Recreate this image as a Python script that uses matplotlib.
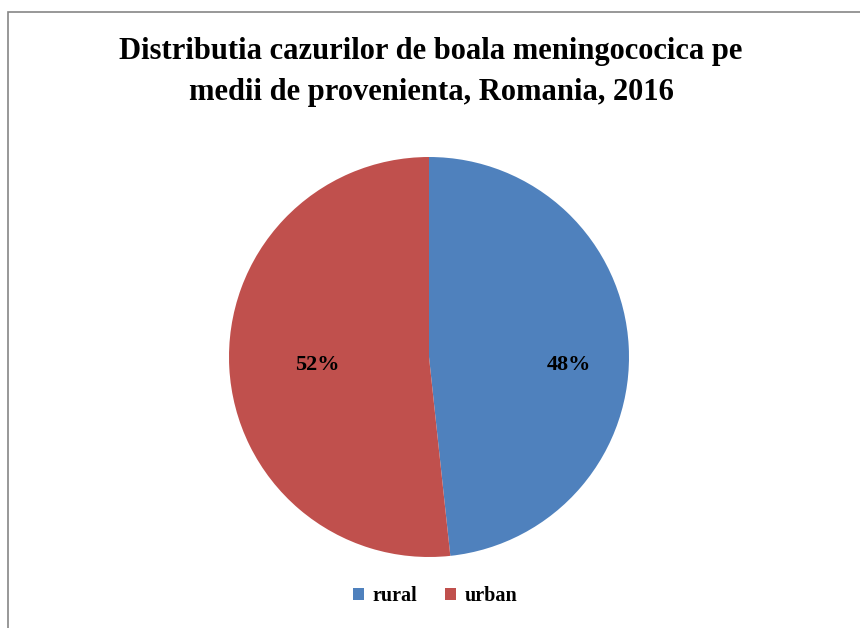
import matplotlib
matplotlib.use("Agg")
import matplotlib.pyplot as plt
from matplotlib.patches import Rectangle, Patch

categories = ["rural", "urban"]
values = [48.3, 51.7]
colors = ["#4F81BD", "#C0504D"]
title = "Distributia cazurilor de boala meningococica pe\nmedii de provenienta, Romania, 2016"

W, H = 860, 628
fig = plt.figure(figsize=(W / 100, H / 100), dpi=100)
serif = ["Liberation Serif", "DejaVu Serif"]

# border (only left and top visible in reference)
fig.patches.append(Rectangle((8 / W, -0.1), 1.2, (H - 12) / H + 0.1,
                             transform=fig.transFigure, fill=False,
                             edgecolor="#868686", linewidth=1.2))

cx, cy, r = 429, 357, 200
ax = fig.add_axes([(cx - r) / W, (H - cy - r) / H, 2 * r / W, 2 * r / H])
wedges, texts, autotexts = ax.pie(values, colors=colors, startangle=90, counterclock=False,
                                  autopct="%.0f%%", pctdistance=0.7,
                                  wedgeprops=dict(linewidth=0),
                                  textprops=dict(fontfamily=serif, fontweight="bold",
                                                 fontsize=16, color="black"))
# Excel-style label placement (both labels on the same height)
autotexts[0].set_position((0.70, -0.04))
autotexts[1].set_position((-0.56, -0.04))
ax.set_xlim(-1, 1)
ax.set_ylim(-1, 1)
ax.set_aspect("equal")

fig.text(431 / W, 1 - 72 / H, title, ha="center", va="center", fontfamily=serif,
         fontweight="bold", fontsize=22, linespacing=1.56)

handles = [Patch(facecolor=c, edgecolor="none") for c in colors]
fig.legend(handles, categories, loc="center", bbox_to_anchor=(435 / W, 1 - 596 / H),
           ncol=2, frameon=False, handlelength=0.55, handleheight=0.55, handletextpad=0.4,
           columnspacing=1.4, prop=dict(family=serif, weight="bold", size=14.5))

fig.savefig("out.png", dpi=100)
